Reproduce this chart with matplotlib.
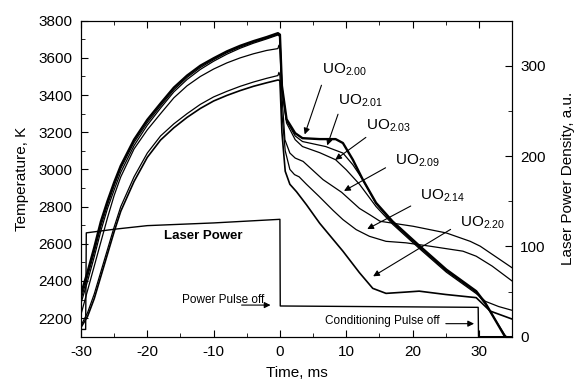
import matplotlib
matplotlib.use("Agg")
import matplotlib.pyplot as plt
from matplotlib.ticker import MultipleLocator

plt.rcParams["font.family"] = ["Liberation Sans", "DejaVu Sans"]
plt.rcParams["mathtext.fontset"] = "custom"
plt.rcParams["mathtext.rm"] = "Liberation Sans"
plt.rcParams["mathtext.default"] = "rm"
plt.rcParams["axes.unicode_minus"] = False

# heating part, common to all samples is the time base
t_heat = [-30, -29, -28, -27, -26, -25, -24, -22, -20, -18, -16, -14, -12, -10, -8, -6, -4, -2, -0.3]

# temperature traces (K), heating then cooling
uo200_t = t_heat + [0, 0.3, 1.0, 2.3, 3.4, 6, 8.4, 9.5, 11, 12.5, 14.5, 17, 21.1, 25.1, 29.6, 31, 33.9, 35]
uo200_T = [2330, 2450, 2580, 2720, 2830, 2930, 3020, 3160, 3267, 3355, 3440, 3505, 3558, 3598, 3635, 3665, 3690, 3712, 3733,
           3725, 3450, 3270, 3195, 3168, 3163, 3163, 3142, 3052, 2945, 2820, 2720, 2587, 2461, 2345, 2280, 2103, 2040]

uo201_t = t_heat + [0, 0.3, 1.0, 2.3, 3.4, 6.9, 9.5, 11, 12.5, 14.5, 17, 21.1, 25.1, 29.6, 31, 33.9, 35]
uo201_T = [2300, 2425, 2555, 2695, 2810, 2912, 3005, 3145, 3252, 3342, 3428, 3495, 3548, 3590, 3628, 3658, 3684, 3706, 3727,
           3720, 3445, 3262, 3180, 3150, 3123, 3088, 3025, 2945, 2815, 2712, 2578, 2453, 2338, 2275, 2110, 2070]

uo203_t = t_heat + [0, 0.3, 1.0, 2.3, 3.4, 6, 8.4, 10, 12, 14.5, 17, 21.1, 25.1, 29.6, 31, 33, 35]
uo203_T = [2280, 2400, 2530, 2670, 2790, 2890, 2985, 3128, 3238, 3330, 3417, 3484, 3538, 3582, 3620, 3652, 3679, 3702, 3723,
           3715, 3440, 3250, 3160, 3123, 3090, 3052, 2998, 2920, 2800, 2705, 2572, 2447, 2332, 2290, 2262, 2242]

uo209_t = t_heat + [-0.15, 0, 0.3, 0.75, 1.5, 2.3, 3.5, 6.5, 9.3, 12, 13.6, 15.1, 20.1, 25.1, 28.7, 30.2, 35]
uo209_T = [2220, 2350, 2480, 2610, 2740, 2860, 2960, 3110, 3213, 3300, 3385, 3450, 3500, 3540, 3573, 3600, 3622, 3640, 3650,
           3668, 3655, 3400, 3160, 3088, 3061, 3043, 2945, 2877, 2790, 2755, 2721, 2694, 2658, 2613, 2587, 2471]

uo214_t = t_heat + [-0.15, 0, 0.3, 0.8, 1.5, 2.2, 2.9, 4, 5.9, 8, 9.5, 11.5, 13.5, 16, 19, 22.6, 27.6, 29.6, 32, 35]
uo214_T = [2160, 2230, 2330, 2450, 2570, 2690, 2800, 2960, 3088, 3180, 3245, 3300, 3350, 3390, 3420, 3447, 3470, 3490, 3505,
           3522, 3505, 3300, 3100, 3000, 2972, 2960, 2920, 2855, 2780, 2730, 2676, 2640, 2613, 2605, 2587, 2560, 2533, 2480, 2400]

uo220_t = t_heat + [0, 0.3, 0.8, 1.5, 2.5, 4, 6, 9.5, 12, 14, 16, 19, 21, 25, 29.6, 31.7, 35]
uo220_T = [2150, 2210, 2305, 2425, 2545, 2665, 2775, 2935, 3065, 3158, 3224, 3280, 3328, 3368, 3398, 3424, 3447, 3466, 3481,
           3478, 3200, 2990, 2920, 2880, 2810, 2710, 2560, 2444, 2360, 2333, 2340, 2345, 2327, 2310, 2238, 2195]

# laser power density (a.u.)
laser_t = [-30, -29.3, -29.2, -25, -20, -10, 0, 0.05, 10, 20, 29.9, 29.95, 35]
laser_p = [8, 8, 115, 119, 123, 126, 130, 34, 33.5, 33, 32.5, 0, 0]

labels = ["UO$_{2.00}$", "UO$_{2.01}$", "UO$_{2.03}$", "UO$_{2.09}$", "UO$_{2.14}$", "UO$_{2.20}$"]
label_xy = [(6.3, 3535), (8.8, 3369), (13.0, 3235), (17.3, 3047), (21.1, 2859), (27.1, 2714)]
arrow_from = [(6.4, 3467), (8.9, 3311), (13.3, 3181), (16.3, 3016), (20.1, 2810), (26.1, 2685)]
arrow_to = [(3.6, 3174), (7.0, 3115), (8.0, 3043), (9.3, 2877), (12.8, 2672), (13.7, 2417)]


fig = plt.figure(figsize=(5.84, 3.8), dpi=100)
ax = fig.add_axes([0.1387, 0.114, 0.738, 0.8315])
ax2 = ax.twinx()

for tt, TT, lw in [(uo200_t, uo200_T, 1.7), (uo201_t, uo201_T, 0.9), (uo203_t, uo203_T, 0.9),
                   (uo209_t, uo209_T, 0.9), (uo214_t, uo214_T, 0.9), (uo220_t, uo220_T, 1.2)]:
    ax.plot(tt, TT, color="black", lw=lw)

ax2.plot(laser_t, laser_p, color="black", lw=1.0)

ax.set_xlim(-30, 35)
ax.set_ylim(2100, 3800)
ax2.set_ylim(0, 350)

ax.xaxis.set_major_locator(MultipleLocator(10))
ax.xaxis.set_minor_locator(MultipleLocator(5))
ax.yaxis.set_major_locator(MultipleLocator(200))
ax.yaxis.set_minor_locator(MultipleLocator(100))
ax2.yaxis.set_major_locator(MultipleLocator(100))
ax2.yaxis.set_minor_locator(MultipleLocator(50))

ax.tick_params(which="both", direction="in", top=True, labelsize=11)
ax.tick_params(which="major", length=5, pad=6)
ax.tick_params(which="minor", length=3)
ax2.tick_params(which="both", direction="in", labelsize=11)
ax2.tick_params(which="major", length=5, pad=6)
ax2.tick_params(which="minor", length=3)

ax.set_xlabel("Time, ms", fontsize=11, labelpad=5)
ax.set_ylabel("Temperature, K", fontsize=11, labelpad=7)
ax2.set_ylabel("Laser Power Density, a.u.", fontsize=11, labelpad=11)

for lab, xy, p0, p1 in zip(labels, label_xy, arrow_from, arrow_to):
    ax.text(xy[0], xy[1], lab, fontsize=11, ha="left", va="center")
    ax.annotate("", xy=p1, xytext=p0,
                arrowprops=dict(arrowstyle="-|>", color="black", lw=0.8, mutation_scale=9))

ax.text(-11.5, 2644, "Laser Power", fontsize=9.5, fontweight="bold", ha="center", va="center")
ax.text(-14.8, 2295, "Power Pulse off", fontsize=8.5, ha="left", va="center")
ax.annotate("", xy=(-1.0, 2270), xytext=(-6.2, 2270),
            arrowprops=dict(arrowstyle="-|>", color="black", lw=0.8, mutation_scale=9))
ax.text(6.8, 2182, "Conditioning Pulse off", fontsize=8.5, ha="left", va="center")
ax.annotate("", xy=(29.7, 2170), xytext=(24.6, 2170),
            arrowprops=dict(arrowstyle="-|>", color="black", lw=0.8, mutation_scale=9))

fig.savefig("out.png", dpi=100)
